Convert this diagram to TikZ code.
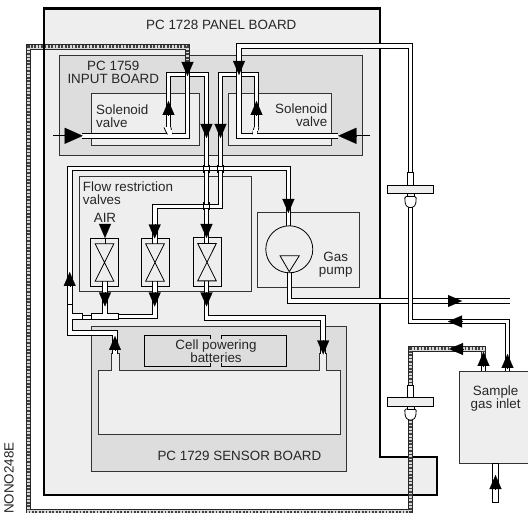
\documentclass[tikz,border=0pt]{standalone}
\usepackage{fontspec}
\setmainfont{Liberation Sans}
\usepackage{xcolor}
\usetikzlibrary{arrows.meta,positioning}
\definecolor{panelgray}{HTML}{EEEEEE}
\definecolor{boardgray}{HTML}{DDDDDD}
\definecolor{linegray}{HTML}{333333}
\newcommand{\valvecross}[1]{\draw[thinline] ([shift={(-9.3,-18.7)}]#1.center) -- ([shift={(9.3,-18.7)}]#1.center) -- ([shift={(-9.3,18.7)}]#1.center) -- ([shift={(9.3,18.7)}]#1.center) -- cycle;}
\newcommand{\filterunit}[2]{
  \draw[thinline, fill=white] (#1-3.3,#2-17) rectangle (#1+3.3,#2);
  \draw[thinline, fill=white, rounded corners=1.5pt] (#1-5.8,#2+7) -- (#1-5.2,#2+15) -- (#1-2.6,#2+18) -- (#1+2.6,#2+18) -- (#1+5.2,#2+15) -- (#1+5.8,#2+7) -- cycle;
  \draw[thinline, fill=panelgray] (#1-3.5,#2+4) -- (#1-3.5,#2+7) -- (#1+3.5,#2+7) -- (#1+3.5,#2+4);
  \draw[thinline, fill=panelgray] (#1-23.3,#2-4.3) rectangle (#1+23.3,#2+4.3);
}
\newcommand{\tubelines}[2]{
  \draw[thinline] (#1-2.8,#2-4) -- (#1-2.8,#2+4);
  \draw[thinline] (#1+2.8,#2-4) -- (#1+2.8,#2+4);
}
\begin{document}
\begin{tikzpicture}[
  x=1pt, y=-1pt,
  thinline/.style={draw=black, line width=0.8pt},
  boardbox/.style={draw=linegray, line width=1pt, fill=boardgray, inner sep=0pt, outer sep=0pt},
  panelbox/.style={boardbox, fill=panelgray},
  tube/.style={draw=black, line width=1pt, double=white, double distance=3.6pt},
  shield/.style={draw=black!75, line width=3pt, dash pattern=on 1.7pt off 1.7pt, preaction={draw, solid, black!85, line width=5.6pt}, preaction={draw, solid, black!15, line width=3.8pt}},
  flow/.style={-{Triangle[length=14pt, width=12pt]}, line width=0.1pt},
  bigflow/.style={-{Triangle[length=18pt, width=16pt]}, line width=0.1pt},
  lbl/.style={font=\fontsize{13.4}{13}\selectfont, text=black!85, inner sep=0pt, align=center}
]
\clip (0,0) rectangle (528,513);
\fill[white] (0,0) rectangle (528,513);

\draw[line width=2.2pt, fill=panelgray] (44,8.5) -- (380,8.5) -- (380,457) -- (437,457) -- (437,495) -- (44,495) -- cycle;

\node[boardbox, minimum width=303pt, minimum height=100pt] (inputboard) at (210.5,106) {};
\node[panelbox, minimum width=108pt, minimum height=52pt] (solenoidA) at (145,120) {};
\node[panelbox, minimum width=103pt, minimum height=52.5pt] (solenoidB) at (279.5,119.7) {};
\node[panelbox, minimum width=172pt, minimum height=114.3pt] (flowbox) at (165.3,234.1) {};
\node[panelbox, minimum width=102pt, minimum height=74.3pt] (pumpbox) at (308,250.1) {};
\node[boardbox, minimum width=255.7pt, minimum height=144.3pt] (sensorboard) at (218.9,398.9) {};
\node[fill=boardgray, inner sep=0pt, minimum width=142pt, minimum height=30.5pt] (batteries) at (215.7,351) {};
\draw[thinline] (210.3,339) -- (210.3,335.7) -- (144.7,335.7) -- (144.7,366.2) -- (210.3,366.2) -- (210.3,363);
\draw[thinline] (221.7,339) -- (221.7,335.7) -- (286.7,335.7) -- (286.7,366.2) -- (221.7,366.2) -- (221.7,363);
\draw[boardbox, fill=panelgray] (98.3,434) -- (98.3,371) -- (111.7,371) -- (111.7,354) -- (119,354) -- (119,371) -- (319.8,371) -- (319.8,354) -- (326.4,354) -- (326.4,371) -- (340.7,371) -- (340.7,434) -- cycle;

\node[panelbox, draw=black, minimum width=27.6pt, minimum height=48pt] (valveA) at (104.5,262.5) {};
\node[panelbox, draw=black, minimum width=28pt, minimum height=48.5pt] (valveB) at (155,262.5) {};
\node[panelbox, draw=black, minimum width=28pt, minimum height=49pt] (valveC) at (207,262.2) {};

\draw[tube] (168.5,128) -- (168.5,74.5) -- (206.5,74.5) -- (206.5,244);
\draw[tube] (256.5,128) -- (256.5,74.5) -- (220.5,74.5) -- (220.5,206.5) -- (154.7,206.5) -- (154.7,244);
\draw[tube] (82,135.8) -- (187.5,135.8) -- (187.5,60);
\draw[shield] (187.5,62) -- (187.5,47) -- (28.5,47) -- (28.5,512) -- (410.5,512) -- (410.5,415);
\draw[line width=2.2pt] (44,43.5) -- (44,50.5);
\draw[shield] (410.5,390) -- (410.5,349) -- (483.5,349) -- (483.5,366);
\draw[tube] (338,135.8) -- (239,135.8) -- (239,46) -- (410.5,46) -- (410.5,175);
\draw[tube] (288.4,228) -- (288.4,168.7) -- (69.7,168.7) -- (69.7,332.8) -- (115,332.8) -- (115,354);
\tubelines{206.5}{168.7}
\tubelines{220.5}{168.7}
\tubelines{206.5}{206.5}
\draw[tube] (105,281.5) -- (105,316);
\draw[tube] (154.7,281.5) -- (154.7,316.7) -- (118,316.7);
\draw[tube] (206.5,281.5) -- (206.5,318) -- (323.2,318) -- (323.2,354);
\draw[tube] (289.5,272.7) -- (289.5,301) -- (510,301);
\draw[tube] (410.5,203) -- (410.5,321.5) -- (507.5,321.5) -- (507.5,372);
\draw[tube] (483.5,365) -- (483.5,372);

\draw[thinline, fill=white] (67.2,304) rectangle (72.3,330);
\fill[white] (68,330.4) rectangle (71.8,334);
\draw[thinline, fill=white] (72.3,313.8) rectangle (82.3,319.7);
\draw[thinline, fill=white] (82.3,315) rectangle (91.7,319);
\draw[thinline, fill=white] (91.7,313.8) rectangle (118.3,319.7);
\fill[white] (71.5,314.4) rectangle (73,319.1);
\fill[white] (103.2,312) rectangle (106.8,318);

\draw[thinline, fill=white] (164,127.5) -- (167,134) -- (172,134) -- (171,127.5);
\fill[white] (165.5,127) rectangle (170,131);
\fill[white] (167.5,130) rectangle (171.5,135);
\draw[thinline, fill=white] (259,127.5) -- (256.5,134) -- (252.5,134) -- (254,127.5);
\fill[white] (254.8,127) rectangle (258.2,131);
\fill[white] (253.2,130) rectangle (256.5,135);

\valvecross{valveA}
\valvecross{valveB}
\valvecross{valveC}
\filterunit{410.5}{189.5}
\filterunit{410.5}{401.9}
\draw[thinline, fill=panelgray] (289.3,249.3) circle (23.5);
\draw[thinline] (280,255.7) -- (299.3,255.7) -- (289.3,271.7) -- cycle;
\node[panelbox, minimum width=72pt, minimum height=92.3pt] (sample) at (495,417.2) {};
\draw[thinline, fill=white] (492.7,463.3) rectangle (498.3,502.7);

\draw[flow] (187.5,62) -- (187.5,76);
\draw[flow] (168.5,115) -- (168.5,101);
\draw[flow] (206.5,124) -- (206.5,138);
\draw[flow] (220.5,124) -- (220.5,138);
\draw[flow] (239,61) -- (239,75);
\draw[flow] (256.5,115) -- (256.5,101);
\draw[flow] (105,224) -- (105,238);
\draw[thinline] (105,238) -- (105,244.5);
\draw[flow] (154.7,224.5) -- (154.7,238.5);
\draw[flow] (206.5,224) -- (206.5,238);
\draw[flow] (288.4,199) -- (288.4,213);
\draw[flow] (69.7,286) -- (69.7,272);
\draw[flow] (105,292.5) -- (105,306.5);
\draw[flow] (154.7,292.5) -- (154.7,306.5);
\draw[flow] (206.5,292.5) -- (206.5,306.5);
\draw[flow] (115,350) -- (115,336);
\draw[flow] (323.2,340.5) -- (323.2,354.5);
\draw[flow] (448,301) -- (462,301);
\draw[flow] (462,321.5) -- (448,321.5);
\draw[flow] (463,349) -- (449,349);
\draw[flow] (483.5,366) -- (483.5,352);
\draw[flow] (507.5,368) -- (507.5,354);
\draw[flow] (495.5,489) -- (495.5,475);
\draw[bigflow] (64.5,135.8) -- (82.7,135.8);
\draw[thinline] (53.3,135.8) -- (65,135.8);
\draw[bigflow] (356.5,135.8) -- (338.3,135.8);
\draw[thinline] (370,135.8) -- (356,135.8);

\node[lbl, anchor=west] (paneltitle) at (146,25) {PC 1728 PANEL BOARD};
\node[lbl] (inputtitle) at (113.3,72.8) {PC 1759\\INPUT BOARD};
\node[lbl, align=left, anchor=west] (solenoidAtext) at (96,116.3) {Solenoid\\valve};
\node[lbl, align=right, anchor=east] (solenoidBtext) at (327.5,115.3) {Solenoid\\valve};
\node[lbl, align=left, anchor=west] (flowtext) at (82.7,193.3) {Flow restriction\\valves};
\node[lbl] (airtext) at (105,218) {AIR};
\node[lbl] (pumptext) at (335.7,265) {Gas\\pump};
\node[lbl] (batterytext) at (216,351) {Cell powering\\batteries};
\node[lbl, anchor=west] (sensortitle) at (157.3,455.7) {PC 1729 SENSOR BOARD};
\node[lbl] (sampletext) at (495.7,399) {Sample\\gas inlet};
\node[lbl, rotate=90, anchor=west] (figcode) at (9,514) {NONO248E};
\end{tikzpicture}
\end{document}
